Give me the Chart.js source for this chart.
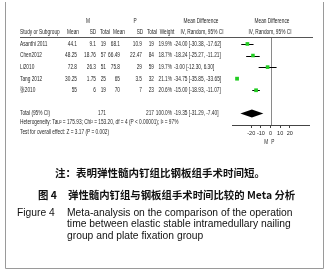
<!DOCTYPE html>
<html><head><meta charset="utf-8">
<script src="https://cdn.jsdelivr.net/npm/chart.js@4/dist/chart.umd.min.js"></script>
<style>html,body{margin:0;padding:0;background:#fff;}canvas{display:block;}</style>
</head><body>
<canvas id="c" width="329" height="276"></canvas>
<script>
const studies = ['Asanthi 2011','Chen2012','Li2010','Tang 2012','张2010'];
const mMean = [44.1, 48.25, 72.8, 30.25, 55];
const mSD = [9.1, 18.76, 26.3, 1.75, 6];
const mTotal = [19, 57, 51, 25, 19];
const pMean = [68.1, 66.49, 75.8, 65, 70];
const pSD = [10.9, 22.47, 29, 3.5, 7];
const pTotal = [19, 84, 59, 32, 23];
const weights = [19.9, 18.7, 19.7, 21.1, 20.6];
const md = [-24.00, -18.24, -3.00, -34.75, -15.00];
const ciLow = [-30.38, -25.27, -12.30, -35.85, -18.93];
const ciHigh = [-17.62, -11.21, 6.30, -33.65, -11.07];
const totalM = 171, totalP = 217, totalWeight = 100.0;
const totalMD = -19.35, totalLow = -31.29, totalHigh = -7.40;
const xTicks = [-20, -10, 0, 10, 20];
const heterogeneity = 'Heterogeneity: Tau² = 175.93; Chi² = 153.20, df = 4 (P < 0.00001); I² = 97%';
const overall = 'Test for overall effect: Z = 3.17 (P = 0.002)';
const favLeft = 'M', favRight = 'P';

const TF = "'Liberation Sans',Arial,sans-serif";
const fs = 7;
const SX = 0.68;
const f2 = v => v.toFixed(2);
const ciText = (m, l, h) => f2(m) + ' [' + f2(l) + ', ' + f2(h) + ']';

const tablePlugin = {
  id: 'table',
  beforeDatasetsDraw(chart) {
    const ctx = chart.ctx, xs = chart.scales.x, ys = chart.scales.y, ca = chart.chartArea;
    ctx.save();
    ctx.strokeStyle = '#8a8a8a'; ctx.lineWidth = 1;
    const x0 = Math.round(xs.getPixelForValue(0)) + 0.5;
    ctx.beginPath(); ctx.moveTo(x0, ca.top); ctx.lineTo(x0, ca.bottom); ctx.stroke();
    ctx.strokeStyle = '#000';
    studies.forEach((s, i) => {
      const y = Math.round(ys.getPixelForValue(i)) + 0.5;
      ctx.beginPath(); ctx.moveTo(xs.getPixelForValue(ciLow[i]), y); ctx.lineTo(xs.getPixelForValue(ciHigh[i]), y); ctx.stroke();
    });
    const yt = ys.getPixelForValue(6);
    ctx.fillStyle = '#000';
    ctx.beginPath();
    ctx.moveTo(xs.getPixelForValue(totalLow), yt);
    ctx.lineTo(xs.getPixelForValue(totalMD), yt - 4);
    ctx.lineTo(xs.getPixelForValue(totalHigh), yt);
    ctx.lineTo(xs.getPixelForValue(totalMD), yt + 4);
    ctx.closePath(); ctx.fill();
    ctx.restore();
  },
  afterDraw(chart) {
    const ctx = chart.ctx, xs = chart.scales.x, ys = chart.scales.y;
    ctx.save();
    ctx.fillStyle = '#262626';
    ctx.textBaseline = 'middle';
    ctx.font = fs + 'px ' + TF;
    const N = (t, x, y, a) => {
      ctx.save(); ctx.translate(x, y); ctx.scale(SX, 1);
      ctx.textAlign = a || 'left'; ctx.fillText(t, 0, 0); ctx.restore();
    };
    const T = (t, x, y, a) => { ctx.textAlign = a || 'left'; ctx.fillText(t, x, y); };
    N(favLeft, 88, 21, 'center'); N(favRight, 135, 21, 'center');
    N('Mean Difference', 201, 21, 'center'); N('Mean Difference', 272, 21, 'center');
    N('Study or Subgroup', 20, 32); N('Mean', 73, 32, 'center'); N('SD', 93, 32, 'center'); N('Total', 105, 32, 'center');
    N('Mean', 119, 32, 'center'); N('SD', 140, 32, 'center'); N('Total', 152, 32, 'center');
    N('Weight', 167, 32, 'center'); N('IV, Random, 95% CI', 202, 32, 'center'); N('IV, Random, 95% CI', 270, 32, 'center');
    ctx.strokeStyle = '#555'; ctx.lineWidth = 1;
    ctx.beginPath(); ctx.moveTo(20, 37.5); ctx.lineTo(313, 37.5); ctx.stroke();
    studies.forEach((s, i) => {
      const y = ys.getPixelForValue(i);
      N(s, 20, y);
      N(String(mMean[i]), 77, y, 'right'); N(String(mSD[i]), 96, y, 'right'); N(String(mTotal[i]), 106, y, 'right');
      N(String(pMean[i]), 120, y, 'right'); N(String(pSD[i]), 142, y, 'right'); N(String(pTotal[i]), 154, y, 'right');
      N(weights[i].toFixed(1) + '%', 172, y, 'right');
      N(ciText(md[i], ciLow[i], ciHigh[i]), 174, y);
    });
    const yt = ys.getPixelForValue(6);
    N('Total (95% CI)', 20, yt);
    N(String(totalM), 106, yt, 'right'); N(String(totalP), 154, yt, 'right');
    N(totalWeight.toFixed(1) + '%', 172, yt, 'right');
    N(ciText(totalMD, totalLow, totalHigh), 174, yt);
    N(heterogeneity, 20, 122.5);
    N(overall, 20, 132);
    N(favLeft, xs.getPixelForValue(-4.5), 142, 'center');
    N(favRight, xs.getPixelForValue(2.5), 142, 'center');
    ctx.fillStyle = '#111';
    ctx.font = "bold 10.5px 'Noto Sans CJK SC',sans-serif";
    T('注：表明弹性髓内钉组比钢板组手术时间短。', 160, 173, 'center');
    ctx.font = "bold 10.4px 'Noto Sans CJK SC','Liberation Sans',sans-serif";
    T('图 4', 38, 195);
    T('弹性髓内钉组与钢板组手术时间比较的 Meta 分析', 68, 195);
    ctx.font = "10.3px 'Liberation Sans',Arial,sans-serif";
    T('Figure 4', 17, 213);
    T('Meta-analysis on the comparison of the operation', 67, 213);
    T('time between elastic stable intramedullary nailing', 67, 224.5);
    T('group and plate fixation group', 67, 236);
    ctx.strokeStyle = '#9a9a9a';
    ctx.beginPath();
    ctx.moveTo(5.5, 2); ctx.lineTo(5.5, 268.5); ctx.lineTo(323.5, 268.5); ctx.lineTo(323.5, 2);
    ctx.stroke();
    ctx.restore();
  }
};

new Chart(document.getElementById('c'), {
  type: 'scatter',
  data: {
    datasets: [{
      data: studies.map((s, i) => ({ x: md[i], y: i })),
      pointStyle: 'rect',
      pointRadius: weights.map(w => 2.6 * Math.sqrt(w / 20)),
      backgroundColor: '#22cc22',
      borderWidth: 0
    }]
  },
  options: {
    responsive: false, animation: false, devicePixelRatio: 1,
    layout: { padding: { left: 232, right: 20, top: 37, bottom: 131 } },
    plugins: { legend: { display: false }, tooltip: { enabled: false } },
    scales: {
      x: {
        type: 'linear', min: -40, max: 40,
        afterBuildTicks: s => { s.ticks = xTicks.map(v => ({ value: v })); },
        afterFit: s => { s.height = 20; },
        grid: { drawOnChartArea: false, drawTicks: true, tickLength: 3, color: '#444' },
        border: { color: '#444' },
        ticks: { font: { size: 5.5, family: TF }, color: '#222', padding: 2, maxRotation: 0, autoSkip: false }
      },
      y: { display: false, min: -0.6, max: 7.0, reverse: true }
    }
  },
  plugins: [tablePlugin]
});
</script>
</body></html>
